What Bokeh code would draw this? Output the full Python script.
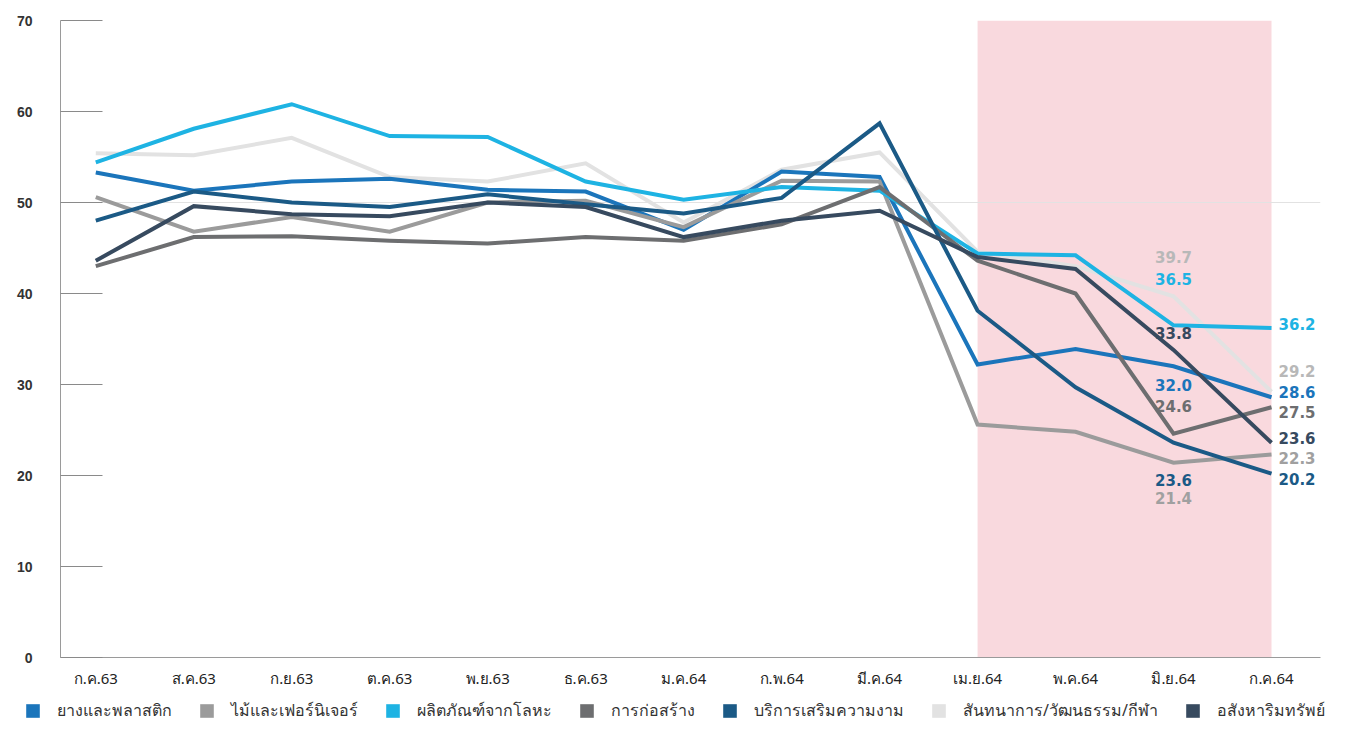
from bokeh.plotting import figure
from bokeh.layouts import column
from bokeh.models import (Range1d, FixedTicker, BoxAnnotation, Span, Legend,
                          LegendItem, ColumnDataSource)
from bokeh.core.properties import value
from bokeh.embed import file_html
from bokeh.resources import INLINE

months = ["ก.ค.63", "ส.ค.63", "ก.ย.63", "ต.ค.63", "พ.ย.63", "ธ.ค.63", "ม.ค.64",
          "ก.พ.64", "มี.ค.64", "เม.ย.64", "พ.ค.64", "มิ.ย.64", "ก.ค.64"]

names = ["ยางและพลาสติก", "ไม้และเฟอร์นิเจอร์", "ผลิตภัณฑ์จากโลหะ", "การก่อสร้าง",
         "บริการเสริมความงาม", "สันทนาการ/วัฒนธรรม/กีฬา", "อสังหาริมทรัพย์"]

rubber = [53.3, 51.3, 52.3, 52.6, 51.4, 51.2, 47.0, 53.4, 52.8, 32.2, 33.9, 32.0, 28.6]
wood = [50.6, 46.8, 48.4, 46.8, 50.0, 50.2, 47.3, 52.4, 52.3, 25.6, 24.8, 21.4, 22.3]
metal = [54.4, 58.1, 60.8, 57.3, 57.2, 52.3, 50.3, 51.7, 51.3, 44.4, 44.2, 36.5, 36.2]
construction = [43.0, 46.2, 46.3, 45.8, 45.5, 46.2, 45.8, 47.6, 51.7, 43.6, 40.0, 24.6, 27.5]
beauty = [48.0, 51.2, 50.0, 49.5, 50.9, 49.8, 48.8, 50.5, 58.7, 38.1, 29.7, 23.6, 20.2]
recreation = [55.4, 55.2, 57.1, 52.8, 52.3, 54.3, 47.8, 53.6, 55.5, 44.6, 43.0, 39.7, 29.2]
realestate = [43.6, 49.6, 48.7, 48.5, 50.0, 49.5, 46.2, 48.0, 49.1, 44.0, 42.7, 33.8, 23.6]

series = [rubber, wood, metal, construction, beauty, recreation, realestate]

# styles
colors = ["#1b75bb", "#9b9b9b", "#1eb3e3", "#6d6e70", "#1b5a86", "#e2e2e2", "#374a5f"]
label_colors = ["#1b75bb", "#a0a0a0", "#1eb3e3", "#6d6e70", "#1b5a86", "#b8b8b8", "#374a5f"]
june_dy = [19, 35, -46, -28, 37, -39, -17]
july_dy = [-5, 3, -4, 5, 5, -21, -5]

xs = list(range(len(months)))
W = 1332

p = figure(width=W, height=692, output_backend="svg", toolbar_location=None,
           x_range=Range1d(-0.36, 12.5), y_range=Range1d(0, 70),
           min_border_left=60, min_border_right=12, min_border_top=20,
           min_border_bottom=35)
p.frame_align = False
p.outline_line_color = None
p.xgrid.visible = False
p.ygrid.visible = False

p.add_layout(BoxAnnotation(left=9, right=12, fill_color="#f9d9de", fill_alpha=1,
                           line_color=None, level="underlay"))
p.add_layout(Span(location=50, dimension="width", line_color="#e2e2e2", line_width=1,
                  level="underlay"))

draw_order = [5, 0, 1, 2, 3, 4, 6]
for i in draw_order:
    p.line(xs, series[i], line_color=colors[i], line_width=4, line_join="miter")

# data labels
src_june = ColumnDataSource(dict(
    x=[11] * 7, y=[s[11] for s in series], t=[f"{s[11]:.1f}" for s in series],
    c=label_colors, dy=june_dy))
src_july = ColumnDataSource(dict(
    x=[12] * 7, y=[s[12] for s in series], t=[f"{s[12]:.1f}" for s in series],
    c=label_colors, dy=july_dy))
p.text(x="x", y="y", text="t", source=src_june, text_color="c", y_offset="dy",
       text_font=value("DejaVu Sans"), text_font_style="bold", text_font_size="15px",
       text_align="center", text_baseline="middle")
p.text(x="x", y="y", text="t", source=src_july, text_color="c", y_offset="dy",
       x_offset=7,
       text_font=value("DejaVu Sans"), text_font_style="bold", text_font_size="15px",
       text_align="left", text_baseline="middle")

# axes
p.yaxis.ticker = FixedTicker(ticks=list(range(0, 71, 10)))
p.yaxis.major_tick_in = 42
p.yaxis.major_tick_out = 0
p.yaxis.minor_tick_line_color = None
p.yaxis.major_tick_line_color = "#8a8a8a"
p.yaxis.axis_line_color = "#9a9a9a"
p.yaxis.major_label_text_font = "Liberation Sans"
p.yaxis.major_label_text_font_style = "bold"
p.yaxis.major_label_text_font_size = "14px"
p.yaxis.major_label_text_color = "#333333"
p.yaxis.major_label_standoff = 28

p.xaxis.ticker = FixedTicker(ticks=xs)
p.xaxis.major_label_overrides = {i: m for i, m in zip(xs, months)}
p.xaxis.major_tick_in = 0
p.xaxis.major_tick_out = 0
p.xaxis.minor_tick_line_color = None
p.xaxis.axis_line_color = "#9a9a9a"
p.xaxis.major_label_text_font = "Noto Sans"
p.xaxis.major_label_text_font_size = "15px"
p.xaxis.major_label_text_color = "#222222"
p.xaxis.major_label_standoff = 10

# legend strip (separate figure so the legend is not clipped by the chart frame)
lg = figure(width=W, height=31, output_backend="svg", toolbar_location=None,
            x_range=Range1d(-1, 0), y_range=Range1d(-1, 0),
            x_axis_type=None, y_axis_type=None,
            min_border=0, min_border_left=0, min_border_right=0,
            min_border_top=0, min_border_bottom=0)
lg.frame_align = False
lg.grid.visible = False
lg.outline_line_color = None

items = []
for i in range(7):
    r = lg.rect(x=xs, y=series[i], width=0, height=0, fill_color=colors[i],
                line_color=None)
    items.append(LegendItem(label=names[i], renderers=[r]))
legend = Legend(items=items, orientation="horizontal", location=(24, 0),
                glyph_width=17, glyph_height=17, label_standoff=16, spacing=26,
                padding=0, margin=0, border_line_color=None, background_fill_alpha=0,
                label_text_font="Noto Sans", label_text_font_size="16px",
                label_text_color="#333333", label_height=17)
lg.add_layout(legend)

open("out.html", "w").write(file_html(column(p, lg, spacing=0), INLINE))
